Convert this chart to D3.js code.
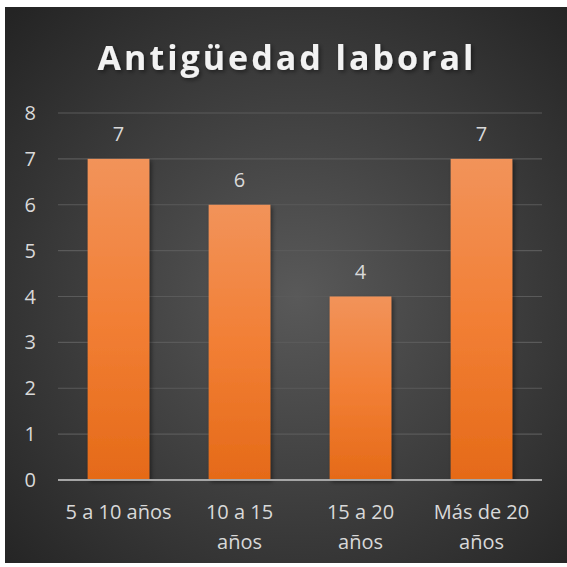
<!DOCTYPE html>
<html>
<head>
<meta charset="utf-8">
<script src="https://cdn.jsdelivr.net/npm/d3@7"></script>
<style>
  body { margin: 0; background: #fff; }
  svg { display: block; }
</style>
</head>
<body>
<svg width="567" height="567"></svg>
<script>
var categories = [["5 a 10 años"], ["10 a 15", "años"], ["15 a 20", "años"], ["Más de 20", "años"]];
var values = [7, 6, 4, 7];
var yTicks = [0, 1, 2, 3, 4, 5, 6, 7, 8];
var title = "Antigüedad laboral";

var svg = d3.select("svg");
var defs = svg.append("defs");

var bg = defs.append("radialGradient").attr("id", "bg")
    .attr("cx", "52%").attr("cy", "52%").attr("r", "72%");
bg.append("stop").attr("offset", "0%").attr("stop-color", "#595959");
bg.append("stop").attr("offset", "100%").attr("stop-color", "#242424");

var barGrad = defs.append("linearGradient").attr("id", "bar")
    .attr("x1", 0).attr("y1", 0).attr("x2", 0).attr("y2", 1);
barGrad.append("stop").attr("offset", "0%").attr("stop-color", "#f2935a");
barGrad.append("stop").attr("offset", "50%").attr("stop-color", "#f27f35");
barGrad.append("stop").attr("offset", "100%").attr("stop-color", "#e56a18");

var shadow = defs.append("filter").attr("id", "shadow")
    .attr("x", "-20%").attr("y", "-20%").attr("width", "150%").attr("height", "150%");
shadow.append("feDropShadow").attr("dx", 2).attr("dy", 2).attr("stdDeviation", 2)
    .attr("flood-color", "#000").attr("flood-opacity", 0.45);

svg.append("rect")
    .attr("x", 5).attr("y", 7)
    .attr("width", 562).attr("height", 556)
    .attr("fill", "url(#bg)");

// plot area (avoid the name "top", it's window.top)
var plotLeft = 58, plotRight = 542, plotTop = 113, plotBottom = 480;
var labelFont = "Open Sans, sans-serif";
var labelSize = 20;

var x = d3.scaleBand()
    .domain(d3.range(values.length))
    .range([plotLeft, plotRight])
    .paddingInner(0.49)
    .paddingOuter(0.245);

var y = d3.scaleLinear().domain([0, 8]).range([plotBottom, plotTop]);

// grid lines
svg.append("g")
    .selectAll("line")
    .data(yTicks)
    .enter()
    .append("line")
    .attr("x1", plotLeft).attr("x2", plotRight)
    .attr("y1", d => y(d)).attr("y2", d => y(d))
    .attr("stroke", "#5a5a5a")
    .attr("stroke-width", 1.2);

// y labels
svg.append("g")
    .selectAll("text")
    .data(yTicks)
    .enter()
    .append("text")
    .attr("x", 36)
    .attr("y", d => y(d))
    .attr("dy", "0.35em")
    .attr("text-anchor", "end")
    .attr("font-family", labelFont)
    .attr("font-size", labelSize)
    .attr("fill", "#d9d9d9")
    .text(d => d);

// bars
svg.append("g")
    .selectAll("rect")
    .data(values)
    .enter()
    .append("rect")
    .attr("x", (d, i) => x(i))
    .attr("y", d => y(d))
    .attr("width", x.bandwidth())
    .attr("height", d => y(0) - y(d))
    .attr("fill", "url(#bar)")
    .attr("filter", "url(#shadow)");

// axis line on top of bars
svg.append("line")
    .attr("x1", plotLeft).attr("x2", plotRight)
    .attr("y1", y(0)).attr("y2", y(0))
    .attr("stroke", "#a6a6a6").attr("stroke-width", 2);

// value labels
svg.append("g")
    .selectAll("text")
    .data(values)
    .enter()
    .append("text")
    .attr("x", (d, i) => x(i) + x.bandwidth() / 2)
    .attr("y", d => y(d) - 25)
    .attr("dy", "0.35em")
    .attr("text-anchor", "middle")
    .attr("font-family", labelFont)
    .attr("font-size", labelSize)
    .attr("fill", "#d9d9d9")
    .text(d => d);

// category labels
var cat = svg.append("g")
    .selectAll("text")
    .data(categories)
    .enter()
    .append("text")
    .attr("x", (d, i) => x(i) + x.bandwidth() / 2)
    .attr("y", 512)
    .attr("text-anchor", "middle")
    .attr("font-family", labelFont)
    .attr("font-size", labelSize)
    .attr("fill", "#d9d9d9");

cat.selectAll("tspan")
    .data(d => d)
    .enter()
    .append("tspan")
    .attr("x", function () { return d3.select(this.parentNode).attr("x"); })
    .attr("dy", (d, i) => i == 0 ? "0.35em" : 30)
    .text(d => d);

// title
svg.append("text")
    .attr("x", 287)
    .attr("y", 70)
    .attr("text-anchor", "middle")
    .attr("font-family", labelFont)
    .attr("font-weight", "bold")
    .attr("font-size", 34)
    .attr("letter-spacing", 3)
    .attr("fill", "#f2f2f2")
    .attr("filter", "url(#shadow)")
    .text(title);
</script>
</body>
</html>
